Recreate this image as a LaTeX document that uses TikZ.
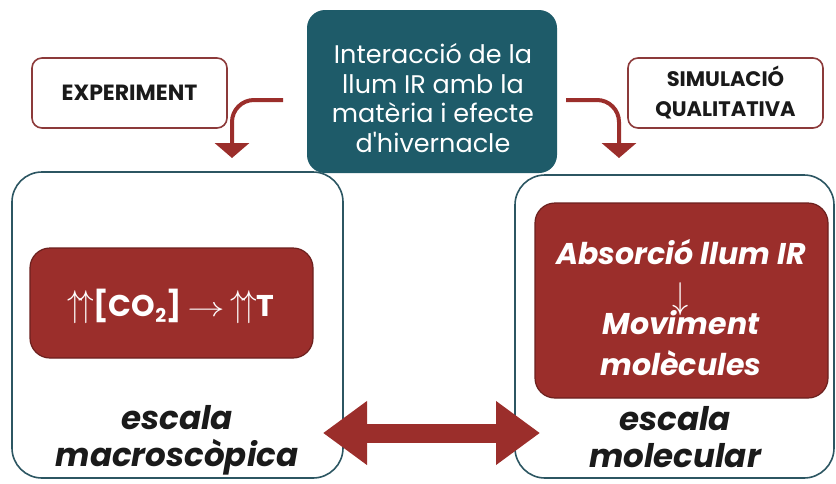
\documentclass[tikz,border=0pt]{standalone}
\usepackage{fontspec}
\usepackage{graphicx}
\setmainfont{Poppins}
\newfontfamily\plainf{Poppins}
\usetikzlibrary{arrows.meta}
\definecolor{tealbox}{HTML}{1E5B69}
\definecolor{redbox}{HTML}{9B2E2B}
\definecolor{bigline}{HTML}{2C5662}
\definecolor{smallline}{HTML}{8C3A3A}
\definecolor{darktxt}{HTML}{1A1A1A}
\newcommand{\uuarr}{\scalebox{1.25}[1.5]{$\uparrow\mkern-3mu\uparrow$}}
\tikzset{
  bigbox/.style={draw=bigline, line width=1.6pt, rounded corners=30pt, fill=white},
  smallbox/.style={draw=smallline, line width=1.6pt, rounded corners=10pt, fill=white},
  redrect/.style={draw=redbox!70!black, line width=1.2pt, fill=redbox, rounded corners=20pt},
  tealrect/.style={fill=tealbox, rounded corners=18pt},
  curvearrow/.style={draw=redbox, line width=4pt, rounded corners=22pt, -{Triangle[width=34pt,length=15pt]}},
  lbl/.style={inner sep=0pt, align=center},
  redtxt/.style={inner sep=0pt, anchor=base, text=white, font=\fontsize{30}{36}\selectfont\bfseries\itshape},
  scaletxt/.style={lbl, text=darktxt, font=\fontsize{32.5}{37}\selectfont\bfseries\itshape},
}
\begin{document}
\begin{tikzpicture}[x=1pt,y=-1pt]
\useasboundingbox (0,0) rectangle (836,483);
% big boxes
\path[bigbox] (12,172) rectangle (343,478);
\path[bigbox] (515,175) rectangle (834,478);
% red boxes
\path[redrect] (30,248) rectangle (313,358);
\path[redrect] (535,203) rectangle (828,398);
% teal box
\path[tealrect] (307,10) rectangle (557,173);
\node[lbl, text=white, font=\fontsize{25.5}{29.5}\selectfont] (teal) at (433,98)
  {Interacció de la\\llum IR amb la\\matèria i efecte\\d{\plainf '}hivernacle};
% small boxes
\path[smallbox] (32,58) rectangle (227,128);
\node[lbl, text=darktxt, font=\fontsize{22}{24}\selectfont\bfseries] (exp) at (129.5,93) {EXPERIMENT};
\path[smallbox] (628,58) rectangle (823,128);
\node[lbl, text=darktxt, font=\fontsize{21}{30}\selectfont\bfseries] (sim) at (725.5,93) {SIMULACIÓ\\QUALITATIVA};
% red box texts
\node[lbl, text=white, font=\fontsize{30}{30}\selectfont\bfseries] (macro) at (171,306)
  {\uuarr[CO\raisebox{-6pt}{\fontsize{19}{19}\selectfont 2}]\hspace{6pt}\scalebox{1.5}[1.1]{$\rightarrow$}\hspace{6pt}\uuarr T};
\node[redtxt] (m1) at (681,264) {Absorció llum IR};
\node[lbl, text=white, font=\fontsize{30}{30}\selectfont] (m2) at (681,299) {\scalebox{1.3}[1.5]{$\downarrow$}};
\node[redtxt] (m3) at (681,334) {Moviment};
\node[redtxt] (m4) at (681,375) {molècules};
% scale labels
\node[scaletxt] (lscale) at (177,440) {escala\\macroscòpica};
\node[scaletxt] (rscale) at (675,437) {escala\\molecular};
% curved arrows
\coordinate (ls) at (283,100);
\coordinate (le) at (232,158);
\coordinate (rs) at (566,100);
\coordinate (re) at (619,158);
\draw[curvearrow] (ls) -- (le |- ls) -- (le);
\draw[curvearrow] (rs) -- (re |- rs) -- (re);
% double arrow
\coordinate (dl) at (323,433);
\coordinate (dr) at (540,433);
\draw[draw=redbox, line width=19pt,
  {Triangle[width=61pt,length=44pt]}-{Triangle[width=61pt,length=44pt]}] (dl) -- (dr);
\end{tikzpicture}
\end{document}
